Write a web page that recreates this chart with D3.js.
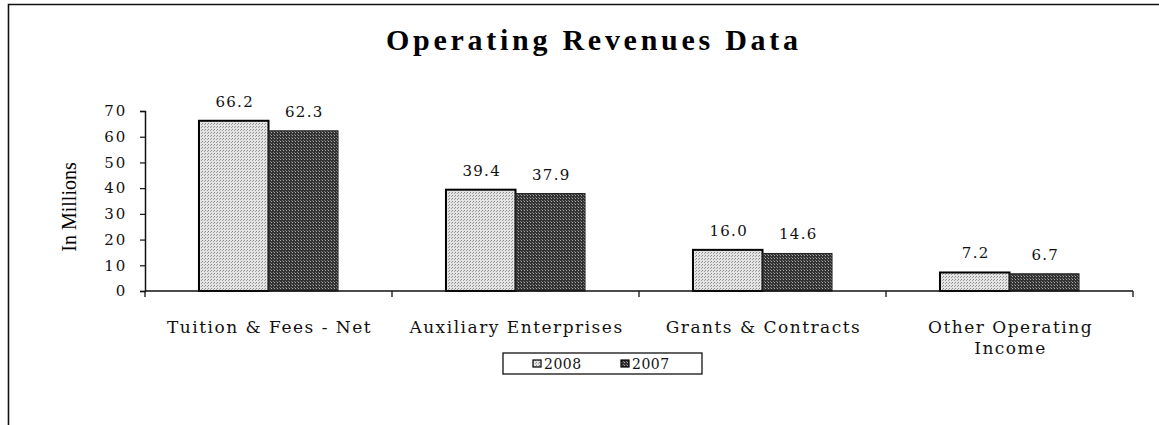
<!DOCTYPE html>
<html>
<head>
<meta charset="utf-8">
<script src="https://cdn.jsdelivr.net/npm/d3@7"></script>
<style>
  body { margin: 0; background: #fff; }
  svg { display: block; }
</style>
</head>
<body>
<svg></svg>
<script>
// data
var categories = ["Tuition & Fees - Net", "Auxiliary Enterprises", "Grants & Contracts", "Other Operating Income"];
var catLines = [["Tuition & Fees - Net"], ["Auxiliary Enterprises"], ["Grants & Contracts"], ["Other Operating", "Income"]];
var series = ["2008", "2007"];
var values2008 = [66.2, 39.4, 16.0, 7.2];
var values2007 = [62.3, 37.9, 14.6, 6.7];
var yTicks = [0, 10, 20, 30, 40, 50, 60, 70];

var W = 1159, H = 425;
var svg = d3.select("svg").attr("width", W).attr("height", H);
var serif = "'DejaVu Serif', serif";

// halftone-ish fills
var defs = svg.append("defs");
var p1 = defs.append("pattern").attr("id", "light")
    .attr("width", 3).attr("height", 3).attr("patternUnits", "userSpaceOnUse");
p1.append("rect").attr("width", 3).attr("height", 3).attr("fill", "#e4e4e4");
p1.append("rect").attr("width", 1).attr("height", 1).attr("fill", "#8a8a8a");
p1.append("rect").attr("x", 2).attr("y", 1).attr("width", 1).attr("height", 1).attr("fill", "#a0a0a0");
var p2 = defs.append("pattern").attr("id", "dark")
    .attr("width", 3).attr("height", 3).attr("patternUnits", "userSpaceOnUse");
p2.append("rect").attr("width", 3).attr("height", 3).attr("fill", "#333");
p2.append("rect").attr("width", 1).attr("height", 1).attr("fill", "#aaa");
p2.append("rect").attr("x", 2).attr("y", 2).attr("width", 1).attr("height", 1).attr("fill", "#777");
var fills = {"2008": "url(#light)", "2007": "url(#dark)"};

// outer frame (only top and left visible)
svg.append("path")
    .attr("d", "M8.5," + H + "V4.5H" + W)
    .attr("fill", "none").attr("stroke", "#111").attr("stroke-width", 1.6);

// title
svg.append("text")
    .attr("x", 592).attr("y", 50)
    .attr("text-anchor", "middle")
    .attr("font-family", "'Liberation Serif', serif")
    .attr("font-weight", "bold")
    .attr("font-size", 30)
    .attr("textLength", 412).attr("lengthAdjust", "spacing")
    .text("Operating Revenues Data");

var x0 = d3.scaleBand().domain(categories).range([145, 1133]);
var bw = x0.bandwidth();
var groupW = bw * 0.563;
var x1 = d3.scaleBand().domain(series).range([(bw - groupW) / 2, (bw + groupW) / 2]);
var y = d3.scaleLinear().domain([0, 70]).range([291, 111]);

// y axis
var yAxis = svg.append("g").attr("transform", "translate(145,0)")
    .call(d3.axisLeft(y).tickValues(yTicks).tickSize(5).tickPadding(13));
yAxis.select(".domain").attr("stroke", "#111").attr("stroke-width", 1.5);
yAxis.selectAll(".tick line").attr("stroke", "#111").attr("stroke-width", 1.2);
yAxis.selectAll(".tick text")
    .attr("font-family", serif).attr("font-size", 15)
    .attr("letter-spacing", 1.8).attr("fill", "#111");

// y title
svg.append("text")
    .attr("transform", "translate(76,207) rotate(-90)")
    .attr("text-anchor", "middle")
    .attr("font-family", "'Liberation Serif', serif")
    .attr("font-size", 20)
    .text("In Millions");

// bars
var rows = categories.map(function (c, i) {
    return {cat: c, vals: [{s: "2008", v: values2008[i]}, {s: "2007", v: values2007[i]}]};
});
var groups = svg.selectAll("g.cat").data(rows).enter().append("g")
    .attr("class", "cat")
    .attr("transform", function (d) { return "translate(" + x0(d.cat) + ",0)"; });

groups.selectAll("rect").data(function (d) { return d.vals; }).enter().append("rect")
    .attr("x", function (d) { return x1(d.s); })
    .attr("width", x1.bandwidth())
    .attr("y", function (d) { return y(d.v); })
    .attr("height", function (d) { return y(0) - y(d.v); })
    .attr("fill", function (d) { return fills[d.s]; })
    .attr("stroke", function (d) { return d.s === "2008" ? "#000" : "#222"; })
    .attr("stroke-width", function (d) { return d.s === "2008" ? 2 : 1; });

groups.selectAll("text.val").data(function (d) { return d.vals; }).enter().append("text")
    .attr("class", "val")
    .attr("x", function (d) { return x1(d.s) + x1.bandwidth() / 2 + 1; })
    .attr("y", function (d) { return y(d.v) - 14; })
    .attr("text-anchor", "middle")
    .attr("font-family", serif).attr("font-size", 15)
    .attr("letter-spacing", 1.3).attr("fill", "#111")
    .text(function (d) { return d.v.toFixed(1); });

// x axis
svg.append("line")
    .attr("x1", 145).attr("x2", 1133).attr("y1", y(0)).attr("y2", y(0))
    .attr("stroke", "#111").attr("stroke-width", 1.5);
var bounds = categories.map(function (c) { return x0(c); }).concat([x0.range()[1]]);
svg.selectAll("line.xtick").data(bounds).enter().append("line")
    .attr("class", "xtick")
    .attr("x1", function (d) { return d; }).attr("x2", function (d) { return d; })
    .attr("y1", y(0)).attr("y2", y(0) + 6)
    .attr("stroke", "#111").attr("stroke-width", 1.3);

// category labels
svg.selectAll("text.cat").data(catLines).enter().append("text")
    .attr("class", "cat")
    .attr("text-anchor", "middle")
    .attr("font-family", serif).attr("font-size", 17)
    .attr("letter-spacing", 1.5).attr("fill", "#111")
    .each(function (lines, i) {
        var t = d3.select(this);
        lines.forEach(function (l, j) {
            t.append("tspan")
                .attr("x", x0(categories[i]) + bw / 2 + 1)
                .attr("y", 333 + j * 21)
                .text(l);
        });
    });

// legend
var lg = svg.append("g").attr("transform", "translate(503,353)");
lg.append("rect").attr("width", 199).attr("height", 21)
    .attr("fill", "#fff").attr("stroke", "#111").attr("stroke-width", 1.3);
var items = lg.selectAll("g.item").data(series).enter().append("g")
    .attr("transform", function (d, i) { return "translate(" + (30 + i * 88) + ",0)"; });
items.append("rect")
    .attr("y", 7).attr("width", 8).attr("height", 7)
    .attr("fill", function (d) { return fills[d]; })
    .attr("stroke", "#000").attr("stroke-width", 1.2);
items.append("text")
    .attr("x", 11).attr("y", 15.5)
    .attr("font-family", serif).attr("font-size", 14)
    .attr("letter-spacing", 0.5).attr("fill", "#111")
    .text(function (d) { return d; });
</script>
</body>
</html>
